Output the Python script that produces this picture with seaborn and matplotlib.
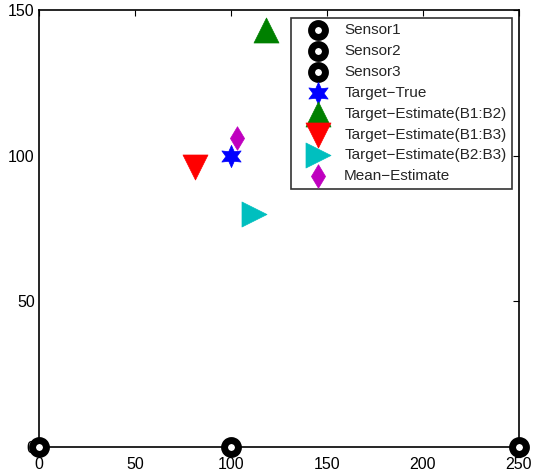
import matplotlib
matplotlib.use("Agg")
import matplotlib.pyplot as plt
import seaborn as sns

# sensor positions
sensor_x = [0, 100, 250]
sensor_y = [0, 0, 0]
sensor_names = ["Sensor1", "Sensor2", "Sensor3"]

# target and estimates
target_x, target_y = [100], [100]
est12_x, est12_y = [118], [143]
est13_x, est13_y = [81], [96]
est23_x, est23_y = [112], [80]
mean_x, mean_y = [103], [106]

x_ticks = [0, 50, 100, 150, 200, 250]
y_ticks = [0, 50, 100, 150]

sns.set_style("white")
plt.rcParams["font.family"] = ["Liberation Sans", "DejaVu Sans"]

fig = plt.figure(figsize=(5.46, 4.72), dpi=100)
ax = fig.add_axes([39 / 546, 25 / 472, 480 / 546, 437 / 472])

for sx, sy, name in zip(sensor_x, sensor_y, sensor_names):
    sns.scatterplot(x=[sx], y=[sy], ax=ax, marker="o", s=10 ** 2,
                    color="white", edgecolor="black", linewidth=5,
                    label=name, clip_on=False, zorder=5)

series = [
    (target_x, target_y, (6, 1, 0), 16, "#0000ff", "Target−True"),
    (est12_x, est12_y, "^", 18, "#008000", "Target−Estimate(B1:B2)"),
    (est13_x, est13_y, "v", 18, "#ff0000", "Target−Estimate(B1:B3)"),
    (est23_x, est23_y, ">", 18, "#00bfbf", "Target−Estimate(B2:B3)"),
    (mean_x, mean_y, "d", 12, "#bf00bf", "Mean−Estimate"),
]
for xs, ys, mk, ms, col, lab in series:
    sns.scatterplot(x=xs, y=ys, ax=ax, marker=mk, s=ms ** 2, color=col,
                    edgecolor=col, linewidth=0.5, label=lab, zorder=4)

ax.set_xlim(0, 250)
ax.set_ylim(0, 150)
ax.set_xticks(x_ticks)
ax.set_yticks(y_ticks)
ax.tick_params(axis="both", direction="in", top=True, right=True, length=4,
               width=0.8, labelsize=11.5, colors="black")
ax.tick_params(axis="x", pad=7)
ax.tick_params(axis="y", pad=3)
for sp in ax.spines.values():
    sp.set_color("black")
    sp.set_linewidth(1.2)

leg = ax.legend(loc="upper right", bbox_to_anchor=(0.985, 0.982),
                borderaxespad=0, fontsize=11, frameon=True, fancybox=False,
                labelspacing=0.45, handlelength=2.9, handletextpad=0.25,
                borderpad=0.35, markerscale=1.0)
leg.get_frame().set_edgecolor("black")
leg.get_frame().set_linewidth(1.2)
leg.set_zorder(3)

fig.savefig("out.png", dpi=100)
